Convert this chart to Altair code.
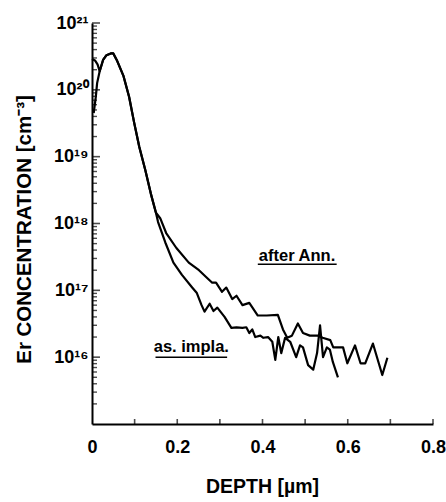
import altair as alt
import pandas as pd

# ---- data (depth in µm, Er concentration in cm^-3) ----
after_depth = [0.000, 0.007, 0.013, 0.018, 0.026, 0.034, 0.044, 0.050, 0.058, 0.074,
               0.087, 0.099, 0.111, 0.125, 0.138, 0.150, 0.160, 0.174, 0.198, 0.227,
               0.251, 0.267, 0.282, 0.291, 0.305, 0.315, 0.329, 0.339, 0.353, 0.369,
               0.389, 0.410, 0.436, 0.448, 0.458, 0.469, 0.483, 0.495, 0.511, 0.530,
               0.541, 0.559, 0.566, 0.589, 0.599, 0.617, 0.630, 0.641, 0.659, 0.681,
               0.693]
after_conc = [2.9e20, 2.75e20, 2.4e20, 1.9e20, 2.8e20, 3.3e20, 3.5e20, 3.5e20, 2.8e20, 1.6e20,
              7.9e19, 3.2e19, 1.4e19, 6.3e18, 2.8e18, 1.45e18, 1.2e18, 7.2e17, 4.3e17, 2.6e17,
              2.0e17, 1.6e17, 1.3e17, 1.3e17, 9.5e16, 1.1e17, 7.4e16, 8.3e16, 6.0e16, 6.5e16,
              4.2e16, 4.2e16, 4.3e16, 2.6e16, 1.95e16, 2.1e16, 3.2e16, 2.3e16, 2.1e16, 2.1e16,
              1.95e16, 1.8e16, 1.4e16, 1.4e16, 8.1e15, 1.5e16, 8.1e15, 8.1e15, 1.6e16, 5.4e15,
              9.8e15]

impla_depth = [0.004, 0.009, 0.012, 0.018, 0.026, 0.034, 0.044, 0.050, 0.058, 0.074,
               0.087, 0.099, 0.111, 0.125, 0.138, 0.150, 0.155, 0.172, 0.191, 0.211,
               0.235, 0.246, 0.257, 0.264, 0.276, 0.285, 0.294, 0.311, 0.327, 0.339,
               0.353, 0.362, 0.369, 0.376, 0.383, 0.395, 0.402, 0.413, 0.423, 0.430,
               0.437, 0.444, 0.453, 0.465, 0.479, 0.488, 0.495, 0.507, 0.519, 0.528,
               0.535, 0.542, 0.551, 0.558, 0.565, 0.577]
impla_conc = [4.5e19, 7.9e19, 1.26e20, 1.9e20, 2.8e20, 3.3e20, 3.5e20, 3.5e20, 2.8e20, 1.6e20,
              7.9e19, 3.2e19, 1.4e19, 6.3e18, 2.8e18, 1.45e18, 1.05e18, 5.2e17, 2.6e17, 1.7e17,
              1.1e17, 9.1e16, 6.0e16, 4.8e16, 6.3e16, 4.9e16, 5.5e16, 4.0e16, 2.75e16, 2.8e16,
              2.75e16, 2.8e16, 2.3e16, 2.6e16, 2.0e16, 2.1e16, 1.95e16, 2.0e16, 1.7e16, 9.1e15,
              2.0e16, 1.15e16, 1.95e16, 1.7e16, 1.0e16, 1.5e16, 1.4e16, 7.6e15, 6.5e15, 1.15e16,
              3.0e16, 1.0e16, 1.4e16, 1.3e16, 8.5e15, 5.0e15]

label_text = ["after Ann.", "as. impla."]
label_depth = [0.481, 0.233]
label_conc = [2.75e17, 1.2e16]
underline_start = [0.389, 0.149]
underline_end = [0.574, 0.317]
underline_conc = [2.45e17, 1.0e16]

x_tick_values = [0.0, 0.1, 0.2, 0.3, 0.4, 0.5, 0.6, 0.7, 0.8]
x_tick_labels = ["0", "", "0.2", "", "0.4", "", "0.6", "", "0.8"]
y_decades = [1e15, 1e16, 1e17, 1e18, 1e19, 1e20, 1e21]
y_tick_labels = ["", "10¹⁶", "10¹⁷", "10¹⁸", "10¹⁹", "10²⁰", "10²¹"]

# ---- tables ----
profiles = pd.concat([
    pd.DataFrame({"depth": after_depth, "conc": after_conc, "series": "after Ann."}),
    pd.DataFrame({"depth": impla_depth, "conc": impla_conc, "series": "as. impla."}),
])
labels = pd.DataFrame({"text": label_text, "depth": label_depth, "conc": label_conc,
                       "x0": underline_start, "x1": underline_end, "yu": underline_conc})

y_minor_values = [m * d for d in y_decades[:-1] for m in range(2, 10)]
y_major_ticks = pd.DataFrame({"v": y_decades[1:]})
y_minor_ticks = pd.DataFrame({"v": y_minor_values})
x_ticks = pd.DataFrame({"v": x_tick_values[1:]})

x_label_expr = " : ".join(
    f"datum.value == {v} ? '{t}'" for v, t in zip(x_tick_values, x_tick_labels)
) + " : ''"
y_label_expr = " : ".join(
    f"abs(datum.value / {d:.0e} - 1) < 1e-6 ? '{t}'" for d, t in zip(y_decades, y_tick_labels)
) + " : ''"

FONT = "Liberation Sans"
W, H = 341, 401
TICK_COLOR = "black"

xscale = alt.Scale(domain=[0, 0.8], nice=False, zero=False)
yscale = alt.Scale(type="log", domain=[1e15, 1e21], nice=False)

x_axis = alt.Axis(
    orient="bottom", values=x_tick_values, labelExpr=x_label_expr, title="DEPTH [µm]",
    ticks=False, labelPadding=14, labelFontSize=18,
    titleX=170, titleY=62, titleBaseline="middle", titleAlign="center",
    titleFontSize=19.5, grid=False, labelFlush=False,
)
y_axis = alt.Axis(
    orient="left", values=y_decades, labelExpr=y_label_expr, title="Er CONCENTRATION [cm⁻³]",
    ticks=False, labelPadding=4, labelFontSize=18,
    titleX=-68, titleY=206, titleBaseline="middle", titleAlign="center",
    titleFontSize=20.5, grid=False, labelFlush=False, labelOverlap=False,
)

lines = alt.Chart(profiles).mark_line(color="black", strokeWidth=2.2, strokeJoin="round").encode(
    x=alt.X("depth:Q", scale=xscale, axis=x_axis),
    y=alt.Y("conc:Q", scale=yscale, axis=y_axis),
    detail="series:N",
)

# inward tick marks
y_major = alt.Chart(y_major_ticks).mark_tick(
    orient="horizontal", color=TICK_COLOR, size=8, thickness=1.6
).encode(y=alt.Y("v:Q", scale=yscale), x=alt.value(4))
y_minor = alt.Chart(y_minor_ticks).mark_tick(
    orient="horizontal", color=TICK_COLOR, size=5, thickness=1.4
).encode(y=alt.Y("v:Q", scale=yscale), x=alt.value(2.5))
x_tk = alt.Chart(x_ticks).mark_tick(
    orient="vertical", color=TICK_COLOR, size=5, thickness=1.6
).encode(x=alt.X("v:Q", scale=xscale), y=alt.value(H - 2.5))

texts = alt.Chart(labels).mark_text(
    font=FONT, fontWeight="bold", fontSize=16.5, color="black",
    align="center", baseline="alphabetic",
).encode(
    x=alt.X("depth:Q", scale=xscale),
    y=alt.Y("conc:Q", scale=yscale),
    text="text:N",
)

underlines = alt.Chart(labels).mark_rule(color="black", strokeWidth=1.5).encode(
    x=alt.X("x0:Q", scale=xscale),
    x2="x1:Q",
    y=alt.Y("yu:Q", scale=yscale),
)

chart = alt.layer(lines, y_major, y_minor, x_tk, texts, underlines).properties(
    width=W, height=H,
    autosize=alt.AutoSizeParams(type="none"),
    padding={"left": 92, "top": 23, "right": 13, "bottom": 78},
    background="white",
).configure_view(stroke=None).configure_axis(
    domainColor="black", domainWidth=2, tickColor="black", tickWidth=1.5,
    labelFont=FONT, labelFontWeight="bold", labelColor="black",
    titleFont=FONT, titleFontWeight="bold", titleColor="black",
)

chart.save("out.html", embed_options={"renderer": "svg", "actions": False})
